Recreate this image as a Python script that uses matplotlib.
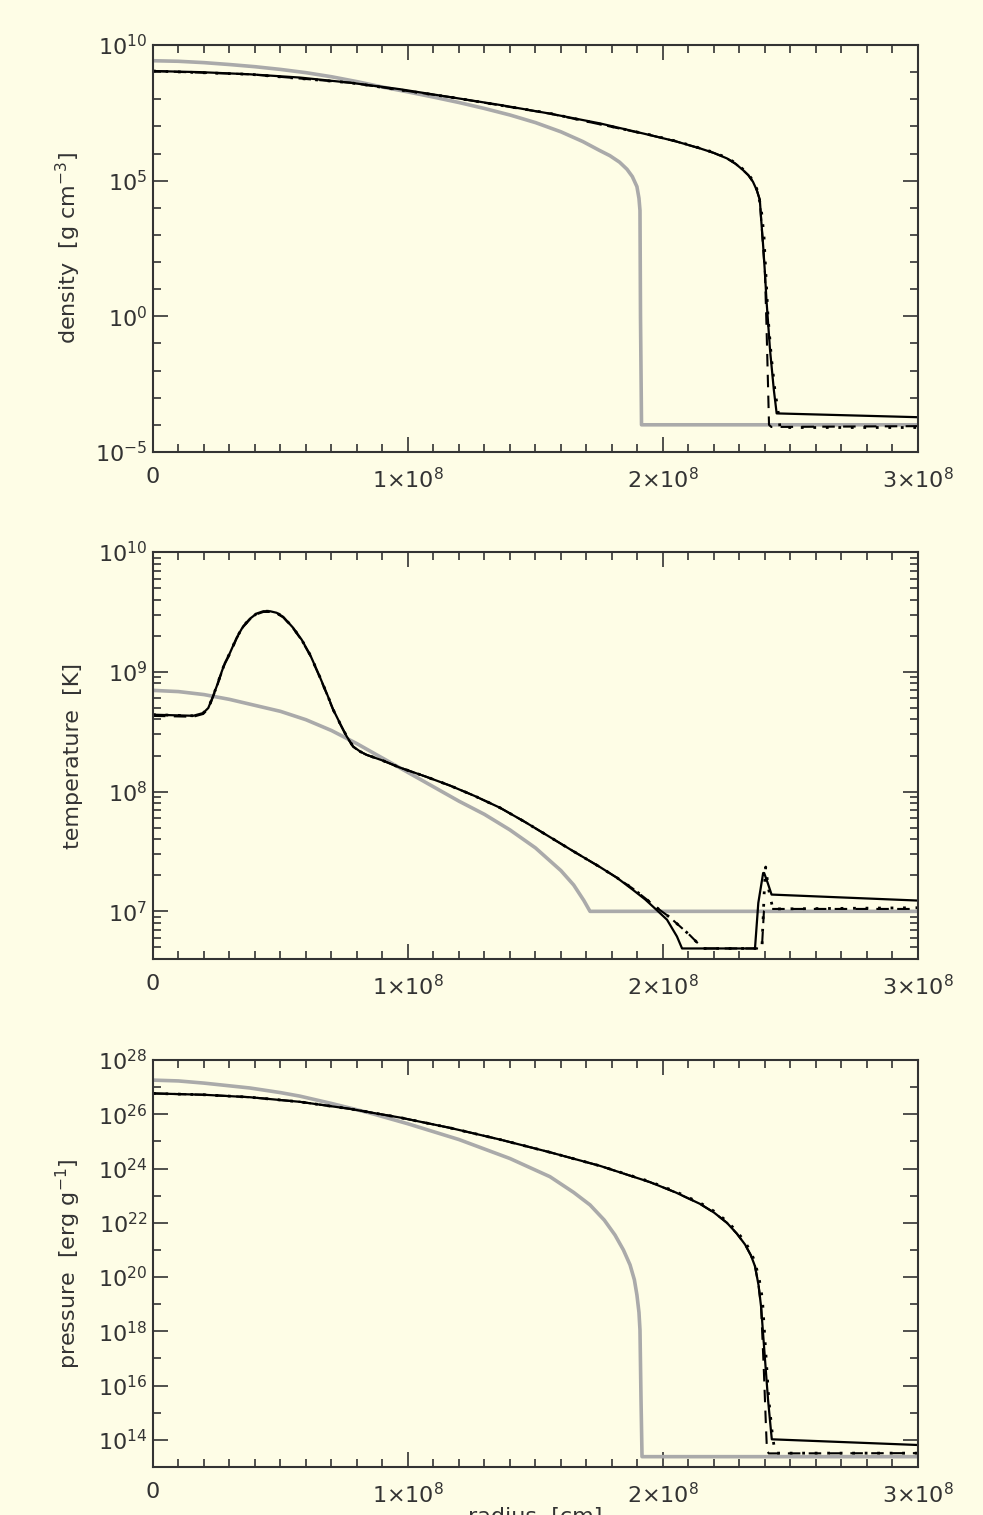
import numpy as np
import matplotlib
matplotlib.use("Agg")
import matplotlib.pyplot as plt
from matplotlib.ticker import FixedLocator, NullFormatter

# radius in units of 1e8 cm, values as log10
# --- density ---
dens_init_r = [0, 0.1, 0.2, 0.3, 0.4, 0.5, 0.6, 0.7, 0.8, 0.9, 1.0, 1.1, 1.2, 1.3, 1.4, 1.5, 1.6,
               1.686, 1.75, 1.792, 1.83, 1.859, 1.88, 1.898, 1.906, 1.910, 1.912, 1.916, 3.0]
dens_init_v = [9.42, 9.40, 9.35, 9.28, 9.20, 9.10, 8.98, 8.83, 8.65, 8.45, 8.27, 8.08, 7.88, 7.66, 7.42, 7.14, 6.80,
               6.44, 6.12, 5.92, 5.68, 5.42, 5.15, 4.78, 4.35, 3.9, 0.0, -4.0, -4.0]

dens_sol_r = [0, 0.184, 0.38, 0.576, 0.773, 0.969, 1.165, 1.361, 1.557, 1.753, 1.949, 2.05, 2.145, 2.2, 2.251,
              2.285, 2.314, 2.335, 2.353, 2.368, 2.38, 2.385, 2.393, 2.40, 2.406, 2.42, 2.435, 2.446, 3.0]
dens_sol_v = [9.04, 9.0, 8.92, 8.8, 8.61, 8.37, 8.08, 7.79, 7.47, 7.11, 6.68, 6.45, 6.19, 6.02, 5.82,
              5.62, 5.39, 5.2, 4.96, 4.65, 4.29, 3.6, 2.6, 1.6, 0.6, -1.24, -2.72, -3.58, -3.72]

dens_dash_r = [0, 0.38, 0.773, 1.165, 1.557, 1.949, 2.05, 2.145, 2.2, 2.251, 2.285, 2.314, 2.335, 2.353, 2.368,
               2.38, 2.385, 2.40, 2.406, 2.412, 2.416, 2.425, 3.0]
dens_dash_v = [9.04, 8.92, 8.61, 8.08, 7.47, 6.68, 6.45, 6.19, 6.02, 5.82, 5.62, 5.39, 5.2, 4.96, 4.65,
               4.29, 3.6, 1.6, -0.3, -2.5, -4.0, -4.08, -4.05]

dens_dot_r = [0, 0.38, 0.773, 1.165, 1.557, 1.949, 2.05, 2.145, 2.2, 2.251, 2.285, 2.314, 2.335, 2.353, 2.368,
              2.385, 2.396, 2.404, 2.412, 2.425, 2.44, 2.451, 2.459, 3.0]
dens_dot_v = [9.04, 8.92, 8.61, 8.08, 7.48, 6.69, 6.46, 6.2, 6.04, 5.84, 5.65, 5.42, 5.24, 5.0, 4.7,
              4.0, 3.0, 1.5, 0.0, -1.5, -2.8, -3.45, -4.1, -4.1]

# --- temperature ---
temp_init_r = [0, 0.1, 0.2, 0.3, 0.4, 0.5, 0.6, 0.7, 0.8, 0.9, 1.0, 1.1, 1.2, 1.3, 1.4, 1.5, 1.6,
               1.65, 1.69, 1.714, 3.0]
temp_init_v = [8.845, 8.835, 8.81, 8.77, 8.72, 8.67, 8.60, 8.51, 8.40, 8.28, 8.16, 8.04, 7.92, 7.81, 7.68, 7.53, 7.34,
               7.22, 7.09, 7.0, 7.0]

temp_sol_r = [0, 0.158, 0.197, 0.217, 0.230, 0.250, 0.263, 0.282, 0.302, 0.328, 0.354, 0.380, 0.407, 0.433,
              0.459, 0.485, 0.511, 0.550, 0.583, 0.616, 0.648, 0.681, 0.707, 0.733, 0.760, 0.785, 0.812,
              0.838, 0.9, 0.969, 1.07, 1.165, 1.26, 1.361, 1.46, 1.557, 1.65, 1.753, 1.82, 1.882, 1.93,
              1.976, 2.016, 2.055, 2.075, 2.361, 2.374, 2.393, 2.397, 2.412, 2.426, 3.0]
temp_sol_v = [8.642, 8.633, 8.656, 8.698, 8.767, 8.879, 8.962, 9.074, 9.158, 9.284, 9.381, 9.443, 9.487, 9.506,
              9.506, 9.493, 9.459, 9.367, 9.269, 9.144, 8.99, 8.823, 8.684, 8.572, 8.46, 8.377, 8.335,
              8.307, 8.26, 8.20, 8.125, 8.05, 7.965, 7.865, 7.745, 7.62, 7.50, 7.37, 7.28, 7.18, 7.10,
              7.01, 6.93, 6.79, 6.69, 6.69, 7.07, 7.32, 7.32, 7.23, 7.14, 7.09]

temp_dash_r = [0, 0.158, 0.197, 0.217, 0.230, 0.250, 0.263, 0.282, 0.302, 0.328, 0.354, 0.380, 0.407, 0.433,
               0.459, 0.485, 0.511, 0.550, 0.583, 0.616, 0.648, 0.681, 0.707, 0.733, 0.760, 0.785, 0.812,
               0.838, 0.9, 0.969, 1.07, 1.165, 1.26, 1.361, 1.46, 1.557, 1.65, 1.753, 1.82, 1.882, 1.93,
               1.976, 2.027, 2.106, 2.157, 2.388, 2.396, 2.41, 3.0]
temp_dash_v = [8.632, 8.625, 8.648, 8.69, 8.76, 8.87, 8.955, 9.066, 9.15, 9.277, 9.375, 9.437, 9.481, 9.50,
               9.50, 9.488, 9.454, 9.362, 9.264, 9.139, 8.985, 8.818, 8.68, 8.568, 8.456, 8.374, 8.333,
               8.306, 8.26, 8.20, 8.125, 8.05, 7.965, 7.865, 7.745, 7.62, 7.50, 7.37, 7.28, 7.19, 7.11,
               7.03, 6.95, 6.80, 6.69, 6.69, 7.0, 7.02, 7.02]

temp_dot_r = [0, 0.158, 0.197, 0.217, 0.230, 0.250, 0.263, 0.282, 0.302, 0.328, 0.354, 0.380, 0.407, 0.433,
              0.459, 0.485, 0.511, 0.550, 0.583, 0.616, 0.648, 0.681, 0.707, 0.733, 0.760, 0.785, 0.812,
              0.838, 0.9, 0.969, 1.07, 1.165, 1.26, 1.361, 1.46, 1.557, 1.65, 1.753, 1.82, 1.882, 1.93,
              1.976, 2.027, 2.106, 2.157, 2.388, 2.398, 2.403, 2.413, 2.431, 3.0]
temp_dot_v = [8.642, 8.633, 8.656, 8.698, 8.767, 8.879, 8.962, 9.074, 9.158, 9.284, 9.381, 9.443, 9.487, 9.506,
              9.506, 9.493, 9.459, 9.367, 9.269, 9.144, 8.99, 8.823, 8.684, 8.572, 8.46, 8.377, 8.335,
              8.307, 8.26, 8.20, 8.125, 8.05, 7.965, 7.865, 7.745, 7.62, 7.50, 7.37, 7.28, 7.19, 7.11,
              7.03, 6.95, 6.80, 6.69, 6.69, 7.2, 7.37, 7.2, 7.02, 7.03]

# --- pressure ---
pres_init_r = [0, 0.1, 0.2, 0.3, 0.38, 0.5, 0.576, 0.7, 0.85, 1.0, 1.2, 1.4, 1.557, 1.65, 1.714, 1.77,
               1.812, 1.845, 1.871, 1.888, 1.898, 1.906, 1.910, 1.914, 1.918, 3.0]
pres_init_v = [27.26, 27.23, 27.15, 27.05, 26.97, 26.8, 26.67, 26.4, 26.05, 25.65, 25.07, 24.37, 23.7, 23.12, 22.66, 22.1,
               21.55, 21.0, 20.45, 19.9, 19.34, 18.7, 18.05, 15.5, 13.38, 13.38]

pres_sol_r = [0, 0.2, 0.38, 0.576, 0.773, 0.969, 1.165, 1.361, 1.557, 1.753, 1.949, 2.05, 2.145, 2.2, 2.251,
              2.29, 2.322, 2.345, 2.361, 2.375, 2.385, 2.396, 2.412, 2.424, 2.427, 3.0]
pres_sol_v = [26.77, 26.72, 26.63, 26.46, 26.2, 25.88, 25.5, 25.07, 24.6, 24.1, 23.5, 23.12, 22.7, 22.38, 22.0,
              21.6, 21.2, 20.8, 20.4, 19.7, 18.9, 17.5, 15.5, 14.3, 14.02, 13.81]

pres_dash_r = [0, 0.2, 0.38, 0.576, 0.773, 0.969, 1.165, 1.361, 1.557, 1.753, 1.949, 2.05, 2.145, 2.2, 2.251,
               2.29, 2.322, 2.345, 2.361, 2.375, 2.385, 2.396, 2.404, 2.408, 2.415, 3.0]
pres_dash_v = [26.77, 26.72, 26.63, 26.46, 26.2, 25.88, 25.5, 25.07, 24.6, 24.1, 23.5, 23.12, 22.7, 22.38, 22.0,
               21.6, 21.2, 20.8, 20.4, 19.7, 18.9, 16.5, 14.5, 13.6, 13.5, 13.51]

pres_dot_r = [0, 0.2, 0.38, 0.576, 0.773, 0.969, 1.165, 1.361, 1.557, 1.753, 1.949, 2.05, 2.145, 2.2, 2.251,
              2.29, 2.322, 2.345, 2.361, 2.378, 2.39, 2.398, 2.415, 2.428, 2.437, 2.445, 3.0]
pres_dot_v = [26.77, 26.72, 26.63, 26.46, 26.2, 25.88, 25.5, 25.07, 24.6, 24.1, 23.52, 23.15, 22.74, 22.43, 22.06,
              21.68, 21.3, 20.92, 20.55, 19.9, 19.2, 18.0, 15.5, 14.3, 13.68, 13.51, 13.51]

x_ticks = [0, 1, 2, 3]
x_labels = ["0", r"$1{\times}10^{8}$", r"$2{\times}10^{8}$", r"$3{\times}10^{8}$"]

BG = "#fefde6"
TXT = "#333333"
GRAY = "#aaaaaa"

plt.rcParams["font.family"] = ["DejaVu Sans"]
plt.rcParams["mathtext.default"] = "regular"
plt.rcParams["font.size"] = 16

fig = plt.figure(figsize=(9.83, 15.15), dpi=100, facecolor=BG)

panels = [
    # bottom, ylim, majors, minors, label, data
    (0.7017, (-5, 10), [-5, 0, 5, 10], [-4, -3, -2, -1, 1, 2, 3, 4, 6, 7, 8, 9],
     r"density  [g cm$^{-3}$]",
     [(dens_init_r, dens_init_v), (dens_sol_r, dens_sol_v), (dens_dash_r, dens_dash_v), (dens_dot_r, dens_dot_v)]),
    (0.3670, (np.log10(4e6), 10), [7, 8, 9, 10], None,
     "temperature  [K]",
     [(temp_init_r, temp_init_v), (temp_sol_r, temp_sol_v), (temp_dash_r, temp_dash_v), (temp_dot_r, temp_dot_v)]),
    (0.0317, (13, 28), [14, 16, 18, 20, 22, 24, 26, 28], [13, 15, 17, 19, 21, 23, 25, 27],
     r"pressure  [erg g$^{-1}$]",
     [(pres_init_r, pres_init_v), (pres_sol_r, pres_sol_v), (pres_dash_r, pres_dash_v), (pres_dot_r, pres_dot_v)]),
]

styles = [
    dict(color=GRAY, lw=2.6, ls="-"),
    dict(color="black", lw=1.6, ls="-"),
    dict(color="black", lw=1.5, ls=(0, (6, 4))),
    dict(color="black", lw=2.0, ls=(0, (1, 3.5))),
]

axes = []
for i, (bottom, ylim, majors, minors, label, data) in enumerate(panels):
    ax = fig.add_axes([0.1556, bottom, 0.7782, 0.2686])
    ax.set_facecolor(BG)
    for (r, v), st in zip(data, styles):
        ax.plot(np.array(r) * 1e8, 10.0 ** np.array(v), **st)
    ax.set_yscale("log")
    ax.set_xlim(0, 3e8)
    ax.set_ylim(10.0 ** ylim[0], 10.0 ** ylim[1])

    ax.set_xticks([t * 1e8 for t in x_ticks])
    ax.set_xticklabels(x_labels)
    ax.xaxis.set_minor_locator(FixedLocator(np.arange(0, 3.01e8, 1e7)))

    ax.yaxis.set_major_locator(FixedLocator([10.0 ** m for m in majors]))
    ax.set_yticklabels([r"$10^{%d}$" % m for m in majors])
    if minors is not None:
        ax.yaxis.set_minor_locator(FixedLocator([10.0 ** m for m in minors]))
    else:
        mins = [k * 10.0 ** e for e in range(6, 10) for k in range(2, 10)]
        ax.yaxis.set_minor_locator(FixedLocator(mins))
    ax.yaxis.set_minor_formatter(NullFormatter())

    ax.tick_params(which="both", direction="in", top=True, right=True, color=TXT, labelcolor=TXT)
    ax.tick_params(which="major", length=11, width=1.2)
    ax.tick_params(which="minor", length=5.8, width=1.2)
    ax.tick_params(axis="x", which="major", pad=11)
    ax.tick_params(axis="y", which="major", pad=4)
    for sp in ax.spines.values():
        sp.set_color(TXT)
        sp.set_linewidth(1.5)

    ax.set_ylabel(label, color=TXT, fontsize=16)
    ax.yaxis.set_label_coords(-0.092, 0.5)
    axes.append(ax)

# the x label sits at the lower edge of the figure, as in the original
axes[-1].set_xlabel("radius  [cm]", color=TXT, fontsize=16, labelpad=0)

fig.savefig("out.png", dpi=100, facecolor=BG)
